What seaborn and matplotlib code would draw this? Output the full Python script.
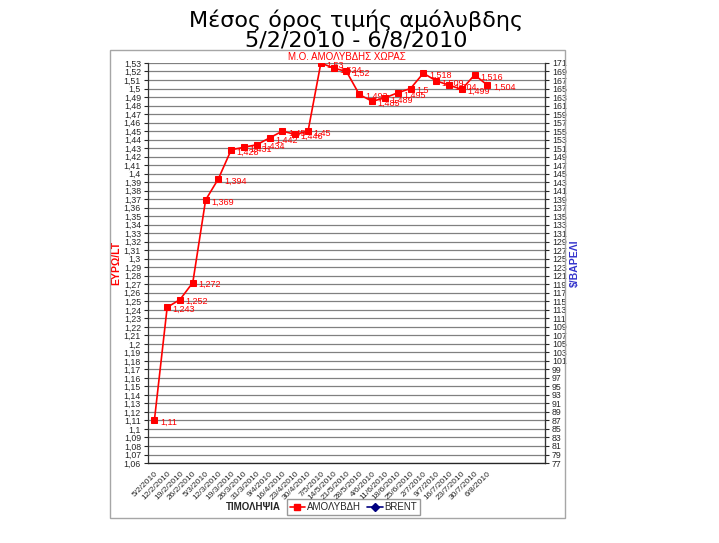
import numpy as np
import pandas as pd
import matplotlib.pyplot as plt
import seaborn as sns
from matplotlib.lines import Line2D
from matplotlib.patches import Rectangle

# --- Μέσος όρος τιμής αμόλυβδης ---

dates = ['5/2/2010', '12/2/2010', '19/2/2010', '26/2/2010', '5/3/2010', '12/3/2010',
         '19/3/2010', '26/3/2010', '31/3/2010', '9/4/2010', '16/4/2010', '23/4/2010',
         '30/4/2010', '7/5/2010', '14/5/2010', '21/5/2010', '28/5/2010', '4/6/2010',
         '11/6/2010', '18/6/2010', '25/6/2010', '2/7/2010', '9/7/2010', '16/7/2010',
         '23/7/2010', '30/7/2010', '6/8/2010']
unleaded = [1.11, 1.243, 1.252, 1.272, 1.369, 1.394, 1.428, 1.431, 1.434, 1.442,
            1.45, 1.446, 1.45, 1.53, 1.524, 1.52, 1.493, 1.485, 1.489, 1.495,
            1.5, 1.518, 1.509, 1.504, 1.499, 1.516, 1.504]
# empty category slots on the right of the axis
n_slots = 31

df = pd.DataFrame({'pos': np.arange(len(dates)), 'date': dates, 'price': unleaded})

sns.set_style('white')
plt.rcParams['font.family'] = ['Liberation Sans', 'DejaVu Sans']

fig = plt.figure(figsize=(7.19, 5.43), dpi=100)
ax = fig.add_axes([0.2058, 0.1473, 0.5522, 0.7367])

# outer chart frame
fig.patches.append(Rectangle((0.153, 0.046), 0.633, 0.862, transform=fig.transFigure,
                             fill=False, edgecolor='#a6a6a6', lw=1.0))

sns.lineplot(data=df, x='pos', y='price', ax=ax, color='#ff0000', lw=1.2,
             marker='s', markersize=5, markeredgecolor='#ff0000', zorder=3)

for x, v in zip(df['pos'], df['price']):
    ax.annotate(f'{v:g}'.replace('.', ','), (x, v), xytext=(4, -1.5),
                textcoords='offset points', va='center', ha='left',
                color='#ff0000', fontsize=6.5)

# left axis
ax.set_ylim(1.06, 1.53)
yt = np.round(np.arange(1.06, 1.5301, 0.01), 2)
ax.set_yticks(yt)
ax.set_yticklabels([f'{t:g}'.replace('.', ',') for t in yt], fontsize=6.3)
ax.yaxis.grid(True, color='#808080', lw=0.9)
ax.set_ylabel('ΕΥΡΩ/LT', color='#ff0000', fontsize=7.5, fontweight='bold', labelpad=2)

# category axis
ax.set_xlim(-0.5, n_slots - 0.5)
ax.set_xticks(np.arange(len(dates)))
ax.set_xticklabels(dates, rotation=45, ha='right', rotation_mode='anchor', fontsize=6)
ax.set_xticks(np.arange(n_slots + 1) - 0.5, minor=True)
ax.tick_params(axis='x', which='major', length=0, pad=5)
ax.tick_params(axis='x', which='minor', length=3, width=0.8, direction='out')
ax.tick_params(axis='y', length=3, width=0.8, direction='out', pad=2, left=True)
ax.set_xlabel('')

for s in ['left', 'bottom', 'right']:
    ax.spines[s].set_color('#333333')
    ax.spines[s].set_linewidth(0.9)
ax.spines['top'].set_visible(False)

# right axis ($/barrel)
ax2 = ax.twinx()
ax2.set_ylim(77, 171)
ax2.set_yticks(np.arange(77, 172, 2))
ax2.tick_params(axis='y', length=3, width=0.8, direction='out', pad=2, labelsize=6.3)
ax2.set_ylabel('$/ΒΑΡΕΛΙ', color='#3333cc', fontsize=7.5, fontweight='bold', labelpad=2)
ax2.spines['right'].set_color('#333333')
ax2.spines['top'].set_visible(False)
ax2.spines['left'].set_visible(False)

ax.set_title('Μ.Ο. ΑΜΟΛΥΒΔΗΣ ΧΩΡΑΣ', color='#ff0000', fontsize=7, pad=2)

# slide title, two lines
fig.text(0.495, 1 - 27 / 543, 'Μέσος όρος τιμής αμόλυβδης', ha='center', va='baseline',
         fontsize=16, family='DejaVu Sans', color='black')
fig.text(0.495, 1 - 46 / 543, '5/2/2010 - 6/8/2010', ha='center', va='baseline',
         fontsize=16, family='DejaVu Sans', color='black')

# legend at the bottom
fig.text(0.39, 0.066, 'ΤΙΜΟΛΗΨΙΑ', ha='right', va='center', fontsize=7, fontweight='bold')
handles = [Line2D([], [], color='#ff0000', marker='s', markersize=5, lw=1.2),
           Line2D([], [], color='#000080', marker='D', markersize=4, lw=1.2)]
fig.legend(handles, ['ΑΜΟΛΥΒΔΗ', 'BRENT'], loc='center left', bbox_to_anchor=(0.392, 0.066),
           ncol=2, fontsize=7, frameon=True, fancybox=False, edgecolor='#808080',
           handlelength=1.6, handletextpad=0.2, columnspacing=0.6, borderpad=0.3)

fig.savefig('out.png', dpi=100)
